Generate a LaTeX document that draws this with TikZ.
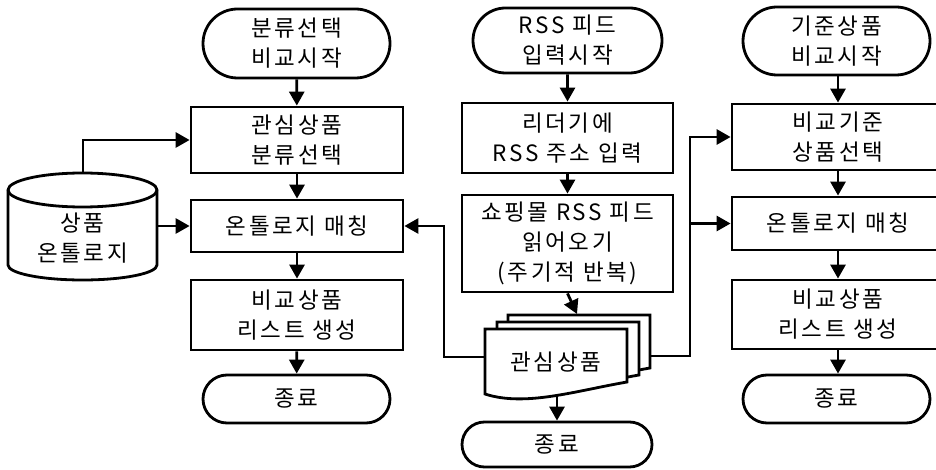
\documentclass[tikz,border=0pt]{standalone}
\usepackage{fontspec}
\setmainfont{Noto Sans CJK KR}[LetterSpace=12]
\usetikzlibrary{arrows.meta,shapes.misc}
\begin{document}
\begin{tikzpicture}[x=1pt,y=-1pt,line width=2.8pt,
  every node/.style={font=\fontsize{22.5}{30}\selectfont,align=center,inner sep=0pt},
  procbox/.style={draw,rectangle,minimum width=212pt,fill=white},
  termbox/.style={draw,rounded rectangle,minimum width=187pt,fill=white},
  flow/.style={-{Triangle[length=14pt,width=15pt]}},
  docshape/.style={draw,fill=white,line join=miter}]
\useasboundingbox (0,0) rectangle (936,470);

% left column
\node[termbox,minimum height=69pt] (t1) at (296.5,43.5) {분류선택\\비교시작};
\node[procbox,minimum height=66pt] (b1) at (297,140) {관심상품\\분류선택};
\node[procbox,minimum height=52pt] (b2) at (297,226) {온톨로지 매칭};
\node[procbox,minimum height=70pt] (b3) at (297,315) {비교상품\\리스트 생성};
\node[termbox,minimum height=48pt] (t2) at (296.5,399) {종료};

% cylinder
\draw[fill=white] (8,190) -- (8,265) arc[start angle=180,end angle=0,x radius=74.5,y radius=15]
  -- (157,190) arc[start angle=0,end angle=-180,x radius=74.5,y radius=17] -- cycle;
\draw (8,190) arc[start angle=180,end angle=0,x radius=74.5,y radius=17];
\node (cyl) at (82.5,238) {상품\\온톨로지};
\coordinate (cylT) at (83,173);
\coordinate (cylR) at (157,226);

% middle column
\node[termbox,minimum width=189pt,minimum height=65pt] (m0) at (567.5,40.5) {RSS 피드\\입력시작};
\node[procbox,minimum width=211pt,minimum height=70pt] (m1) at (567.5,138) {리더기에\\RSS 주소 입력};
\node[procbox,minimum width=211pt,minimum height=97pt] (m2) at (567.5,243.5) {쇼핑몰 RSS 피드\\읽어오기\\(주기적 반복)};
\node[termbox,minimum width=190pt,minimum height=45pt] (m3) at (557,444.5) {종료};

% multi-document
\foreach \dx/\dy in {23/-14,12/-7,0/0}{
  \draw[docshape,shift={(485+\dx,329+\dy)}] (0,0) -- (142,0) -- (142,53)
    .. controls (90,62) and (40,78) .. (0,65) -- cycle;
}
\node (doc) at (556,362) {관심상품};
\coordinate (docL) at (485,357);
\coordinate (docR) at (650,356);
\coordinate (docT) at (577,314);
\coordinate (docB) at (557,396);

% right column
\node[termbox,minimum height=68pt] (rt) at (836.5,41) {기준상품\\비교시작};
\node[procbox,minimum height=66pt] (r1) at (838,137) {비교기준\\상품선택};
\node[procbox,minimum height=53pt] (r2) at (838,223.5) {온톨로지 매칭};
\node[procbox,minimum height=69pt] (r3) at (838,314.5) {비교상품\\리스트 생성};
\node[termbox,minimum height=48pt] (re) at (836.5,399) {종료};
\coordinate (jR) at (690,223.5);

% connectors
\draw[flow] (t1) -- (b1);
\draw[flow] (b1) -- (b2);
\draw[flow] (b2) -- (b3);
\draw[flow] (b3) -- (t2);
\draw[flow] (cylT) |- (b1.west);
\draw[flow] (cylR) -- (b2.west);

\draw[flow] (m0) -- (m1);
\draw[flow] (m1) -- (m2);
\draw[flow] (m2.south) -- (docT);
\draw[flow] (docB) -- (m3.north);
\draw[flow] (docL) -- ++(-41,0) |- (b2.east);
\draw[flow] (docR) -- ++(40,0) |- (r1.west);
\draw[flow] (jR) -- (r2.west);

\draw[flow] (rt.south -| r1.north) -- (r1.north);
\draw[flow] (r1) -- (r2);
\draw[flow] (r2) -- (r3);
\draw[flow] (r3.south) -- (re.north -| r3.south);
\end{tikzpicture}
\end{document}
